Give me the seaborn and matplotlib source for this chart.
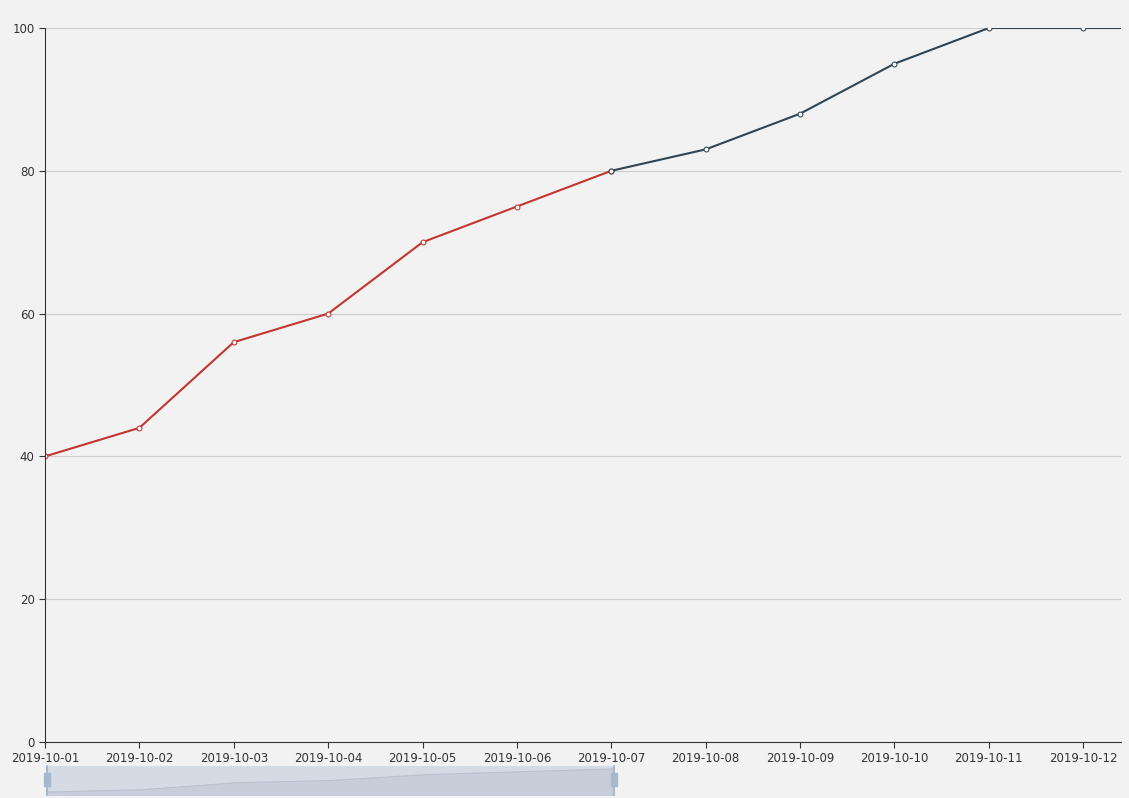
import matplotlib
matplotlib.use("Agg")
import matplotlib.pyplot as plt
import seaborn as sns
import pandas as pd

dates = ["2019-10-01", "2019-10-02", "2019-10-03", "2019-10-04", "2019-10-05", "2019-10-06",
         "2019-10-07", "2019-10-08", "2019-10-09", "2019-10-10", "2019-10-11", "2019-10-12",
         "2019-10-13"]
values = [40, 44, 56, 60, 70, 75, 80, 83, 88, 95, 100, 100, 100]
split = 6  # last index drawn in red
slider_values = [40, 44, 56, 60, 70, 75, 80]

sns.set_style("white")
plt.rcParams["font.family"] = ["DejaVu Sans"]
bg = "#f2f2f2"
fig = plt.figure(figsize=(11.29, 7.98), dpi=100, facecolor=bg)
W, H = 1129, 798
ax = fig.add_axes([45 / W, (H - 742) / H, 1076 / W, 714 / H], facecolor=bg)

df = pd.DataFrame({"x": range(len(values)), "y": values})
red = df.iloc[: split + 1]
dark = df.iloc[split:]
sns.lineplot(data=red, x="x", y="y", color="#c23531", lw=1.5, ax=ax,
             marker="o", markersize=3.5, markerfacecolor="white", markeredgecolor="#c23531")
sns.lineplot(data=dark, x="x", y="y", color="#2f4554", lw=1.5, ax=ax,
             marker="o", markersize=3.5, markerfacecolor="white", markeredgecolor="#2f4554")

ax.set_xlim(0, 11.4)
ax.set_ylim(0, 100)
ax.set_xticks(range(12))
ax.set_xticklabels(dates[:12], fontsize=8.5, color="#333333")
ax.set_yticks([0, 20, 40, 60, 80, 100])
ax.tick_params(axis="y", labelsize=8.5, colors="#333333", length=4, left=True)
ax.tick_params(axis="x", length=4, bottom=True, colors="#333333")
ax.grid(axis="y", color="#cccccc", lw=0.8)
ax.set_xlabel("")
ax.set_ylabel("")
for s in ["top", "right"]:
    ax.spines[s].set_visible(False)
ax.spines["left"].set_color("#333333")
ax.spines["bottom"].set_color("#333333")
ax.set_axisbelow(True)

# data zoom slider
sax = fig.add_axes([47 / W, (H - 795) / H, 567 / W, 29 / H], facecolor="#d5dbe5")
sax.fill_between(range(len(slider_values)), slider_values, 0, color="#c7ced9")
sax.plot(range(len(slider_values)), slider_values, color="#b8c1cf", lw=0.8)
sax.set_xlim(0, len(slider_values) - 1)
sax.set_ylim(35, 85)
sax.set_xticks([])
sax.set_yticks([])
for s in sax.spines.values():
    s.set_visible(False)
for xe in [47, 614]:
    fig.add_artist(plt.Line2D([xe / W, xe / W], [(H - 795) / H, (H - 766) / H], color="#a7b7cc", lw=1.5))
    fig.add_artist(plt.Rectangle(((xe - 3) / W, (H - 786) / H), 6 / W, 13 / H, color="#a7b7cc"))

fig.savefig("out.png", dpi=100, facecolor=bg)
